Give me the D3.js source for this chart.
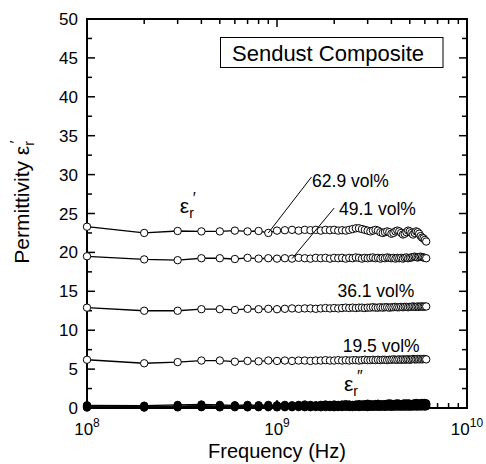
<!DOCTYPE html>
<html>
<head>
<meta charset="utf-8">
<script src="https://cdn.jsdelivr.net/npm/d3@7"></script>
<style>
  body { margin: 0; background: #fff; }
  text { font-family: "Liberation Sans", Arial, sans-serif; fill: #000; }
</style>
</head>
<body>
<div id="chart"></div>
<script>
// DATA //
// frequency in GHz (0.1 GHz steps)
const freqGHz = [0.1,0.2,0.3,0.4,0.5,0.6,0.7,0.8,0.9,1.0,
  1.1,1.2,1.3,1.4,1.5,1.6,1.7,1.8,1.9,2.0,
  2.1,2.2,2.3,2.4,2.5,2.6,2.7,2.8,2.9,3.0,
  3.1,3.2,3.3,3.4,3.5,3.6,3.7,3.8,3.9,4.0,
  4.1,4.2,4.3,4.4,4.5,4.6,4.7,4.8,4.9,5.0,
  5.1,5.2,5.3,5.4,5.5,5.6,5.7,5.8,5.9,6.0,6.1];

// real part eps'
const eps62r = [23.3,22.5,22.75,22.7,22.7,22.8,22.7,22.75,22.5,22.8,
  22.85,22.9,22.8,22.9,22.85,22.9,22.8,22.9,22.85,22.9,
  22.8,22.85,22.8,22.9,23.0,23.1,23.1,23.0,22.9,22.8,
  22.7,22.8,22.9,22.8,22.6,22.5,22.6,22.7,22.6,22.4,
  22.5,22.7,22.8,22.7,22.5,22.3,22.4,22.6,22.8,22.7,
  22.5,22.3,22.5,22.7,22.6,22.4,22.1,21.9,21.8,21.6,21.4];
const eps49r = [19.5,19.1,19.0,19.25,19.25,19.15,19.3,19.2,19.25,19.2,
  19.25,19.2,19.3,19.25,19.2,19.3,19.25,19.3,19.2,19.3,
  19.25,19.3,19.2,19.3,19.25,19.35,19.3,19.2,19.3,19.25,
  19.3,19.35,19.25,19.3,19.2,19.3,19.25,19.35,19.3,19.25,
  19.3,19.2,19.3,19.25,19.3,19.2,19.3,19.35,19.25,19.3,
  19.35,19.4,19.45,19.4,19.35,19.4,19.45,19.4,19.35,19.3,19.25];
const eps36r = [12.9,12.5,12.5,12.7,12.7,12.6,12.75,12.7,12.75,12.7,
  12.75,12.8,12.75,12.8,12.8,12.75,12.8,12.85,12.8,12.85,
  12.8,12.85,12.9,12.85,12.9,12.85,12.9,12.9,12.85,12.9,
  12.9,12.95,12.9,12.9,12.95,12.9,12.95,12.95,12.9,12.95,
  12.95,13.0,12.95,12.95,13.0,12.95,13.0,13.0,12.95,13.0,
  13.0,13.05,13.0,13.0,13.05,13.0,13.05,13.05,13.0,13.05,13.05];
const eps19r = [6.2,5.75,5.9,6.1,6.1,5.95,6.05,6.0,6.1,6.05,
  6.1,6.05,6.1,6.1,6.05,6.1,6.1,6.15,6.1,6.1,
  6.15,6.1,6.15,6.1,6.15,6.15,6.1,6.15,6.2,6.15,
  6.15,6.2,6.15,6.2,6.15,6.2,6.2,6.15,6.2,6.2,
  6.25,6.2,6.2,6.25,6.2,6.25,6.2,6.25,6.25,6.2,
  6.25,6.3,6.25,6.25,6.3,6.25,6.3,6.25,6.3,6.3,6.25];

// imaginary part eps''
const eps62i = [0.35,0.3,0.4,0.45,0.4,0.35,0.4,0.35,0.4,0.35,
  0.4,0.35,0.4,0.45,0.4,0.35,0.4,0.45,0.4,0.45,
  0.4,0.45,0.5,0.45,0.4,0.45,0.5,0.45,0.5,0.55,
  0.5,0.45,0.5,0.55,0.5,0.45,0.5,0.55,0.6,0.55,
  0.5,0.55,0.6,0.55,0.5,0.55,0.6,0.55,0.6,0.55,
  0.5,0.55,0.6,0.65,0.6,0.55,0.6,0.65,0.6,0.65,0.6];
const eps49i = [0.25,0.2,0.25,0.3,0.25,0.3,0.25,0.3,0.25,0.3,
  0.3,0.25,0.3,0.35,0.3,0.3,0.35,0.3,0.35,0.3,
  0.35,0.3,0.35,0.4,0.35,0.3,0.35,0.4,0.35,0.4,
  0.35,0.4,0.45,0.4,0.35,0.4,0.45,0.4,0.45,0.4,
  0.45,0.4,0.45,0.5,0.45,0.4,0.45,0.5,0.45,0.5,
  0.45,0.5,0.45,0.5,0.55,0.5,0.45,0.5,0.55,0.5,0.5];
const eps36i = [0.15,0.1,0.15,0.2,0.15,0.2,0.15,0.2,0.2,0.15,
  0.2,0.2,0.25,0.2,0.2,0.25,0.2,0.25,0.2,0.25,
  0.25,0.2,0.25,0.3,0.25,0.25,0.3,0.25,0.3,0.25,
  0.3,0.3,0.25,0.3,0.35,0.3,0.3,0.35,0.3,0.35,
  0.3,0.35,0.35,0.3,0.35,0.4,0.35,0.35,0.4,0.35,
  0.4,0.35,0.4,0.4,0.35,0.4,0.45,0.4,0.4,0.45,0.4];
const eps19i = [0.05,0.05,0.08,0.1,0.08,0.1,0.08,0.1,0.1,0.08,
  0.1,0.1,0.12,0.1,0.1,0.12,0.1,0.12,0.12,0.1,
  0.12,0.12,0.15,0.12,0.12,0.15,0.12,0.15,0.15,0.12,
  0.15,0.15,0.18,0.15,0.15,0.18,0.15,0.18,0.18,0.15,
  0.18,0.18,0.2,0.18,0.18,0.2,0.18,0.2,0.2,0.18,
  0.2,0.2,0.22,0.2,0.2,0.22,0.2,0.22,0.22,0.2,0.22];

const realSeries = [eps19r, eps36r, eps49r, eps62r];
const imagSeries = [eps19i, eps36i, eps49i, eps62i];

// annotation labels: [text, GHz, value]
const volLabels = [["62.9 vol%", 1.53, 28.4], ["49.1 vol%", 2.12, 24.8],
                   ["36.1 vol%", 2.08, 14.3], ["19.5 vol%", 2.22, 7.2]];
// leader lines: from label (GHz, value) to data point index of series
const leaders = [[1.52, 29.7, eps62r, 8], [2.0, 25.7, eps49r, 11]];

const yTicks = [0,5,10,15,20,25,30,35,40,45,50];
const xMajor = [1e8, 1e9, 1e10];

// DIMENSIONS //
const W = 486, H = 464;
const m = {left: 87, right: 467, top: 19, bottom: 408};

const svg = d3.select("#chart").append("svg")
    .attr("width", W).attr("height", H);

const x = d3.scaleLog().domain([1e8, 1e10]).range([m.left, m.right]);
const y = d3.scaleLinear().domain([0, 50]).range([m.bottom, m.top]);

// TICKS (inward, mirrored) //
const minorX = [];
[1e8, 1e9].forEach(d => { for (let k = 2; k <= 9; k++) minorX.push(d * k); });
const minorY = d3.range(2.5, 50, 5);

const tk = svg.append("g").attr("stroke", "#000").attr("stroke-width", 1.5);
function xTick(v, len) {
  tk.append("line").attr("x1", x(v)).attr("x2", x(v)).attr("y1", m.bottom).attr("y2", m.bottom - len);
  tk.append("line").attr("x1", x(v)).attr("x2", x(v)).attr("y1", m.top).attr("y2", m.top + len);
}
function yTick(v, len) {
  tk.append("line").attr("x1", m.left).attr("x2", m.left + len).attr("y1", y(v)).attr("y2", y(v));
  tk.append("line").attr("x1", m.right).attr("x2", m.right - len).attr("y1", y(v)).attr("y2", y(v));
}
xMajor.forEach(v => xTick(v, 8));
minorX.forEach(v => xTick(v, 5));
yTicks.forEach(v => yTick(v, 8));
minorY.forEach(v => yTick(v, 5));

// frame
svg.append("rect")
    .attr("x", m.left).attr("y", m.top)
    .attr("width", m.right - m.left).attr("height", m.bottom - m.top)
    .attr("fill", "none").attr("stroke", "#000").attr("stroke-width", 2);

// tick labels
svg.append("g").selectAll("text").data(yTicks).join("text")
    .attr("x", m.left - 9).attr("y", d => y(d) + 6)
    .attr("text-anchor", "end").attr("font-size", 17)
    .text(d => d);

const xl = svg.append("g").selectAll("text").data(xMajor).join("text")
    .attr("x", d => x(d)).attr("y", m.bottom + 27)
    .attr("text-anchor", "middle").attr("font-size", 17);
xl.append("tspan").text("10");
xl.append("tspan").attr("dy", -8).attr("font-size", 12).text(d => Math.round(Math.log10(d)));

// axis titles
svg.append("text")
    .attr("x", (m.left + m.right) / 2).attr("y", 458)
    .attr("text-anchor", "middle").attr("font-size", 20)
    .text("Frequency (Hz)");

const yt = svg.append("text")
    .attr("transform", "translate(29,202) rotate(-90)")
    .attr("text-anchor", "middle").attr("font-size", 21);
yt.append("tspan").text("Permittivity ε");
yt.append("tspan").attr("dy", 5).attr("font-size", 14).text("r");
yt.append("tspan").attr("dx", -2).attr("dy", -14).attr("font-size", 15).text("′");

// DATA SERIES //
const line = d3.line().x(d => x(d.f)).y(d => y(d.v));

function drawSeries(vals, filled) {
  const pts = freqGHz.map((f, i) => ({f: f * 1e9, v: vals[i]}));
  svg.append("path").datum(pts).attr("d", line)
      .attr("fill", "none").attr("stroke", "#000").attr("stroke-width", 1.3);
  svg.append("g").selectAll("circle").data(pts).join("circle")
      .attr("cx", d => x(d.f)).attr("cy", d => y(d.v)).attr("r", 3.7)
      .attr("fill", filled ? "#000" : "#fff")
      .attr("stroke", "#000").attr("stroke-width", 1);
}
realSeries.forEach(s => drawSeries(s, false));
imagSeries.forEach(s => drawSeries(s, true));

// leader lines
leaders.forEach(([f, v, s, i]) => {
  svg.append("line")
      .attr("x1", x(f * 1e9)).attr("y1", y(v))
      .attr("x2", x(freqGHz[i] * 1e9)).attr("y2", y(s[i]))
      .attr("stroke", "#000").attr("stroke-width", 1);
});

// volume labels
svg.append("g").selectAll("text").data(volLabels).join("text")
    .attr("x", d => x(d[1] * 1e9)).attr("y", d => y(d[2]))
    .attr("font-size", 17.5)
    .text(d => d[0]);

// eps' and eps'' labels
function epsLabel(f, v, prime) {
  const t = svg.append("text")
      .attr("x", x(f * 1e9)).attr("y", y(v)).attr("font-size", 21);
  t.append("tspan").text("ε");
  t.append("tspan").attr("dy", 5).attr("font-size", 14).text("r");
  t.append("tspan").attr("dx", -1).attr("dy", -14).attr("font-size", 16).text(prime);
}
epsLabel(0.308, 25.1, "′");
epsLabel(2.25, 2.2, "″");

// legend box
svg.append("rect")
    .attr("x", 220.5).attr("y", 37.5).attr("width", 222.5).attr("height", 30)
    .attr("fill", "#fff").attr("stroke", "#000").attr("stroke-width", 1);
svg.append("text")
    .attr("x", 232).attr("y", 61).attr("font-size", 22)
    .text("Sendust Composite");
</script>
</body>
</html>
